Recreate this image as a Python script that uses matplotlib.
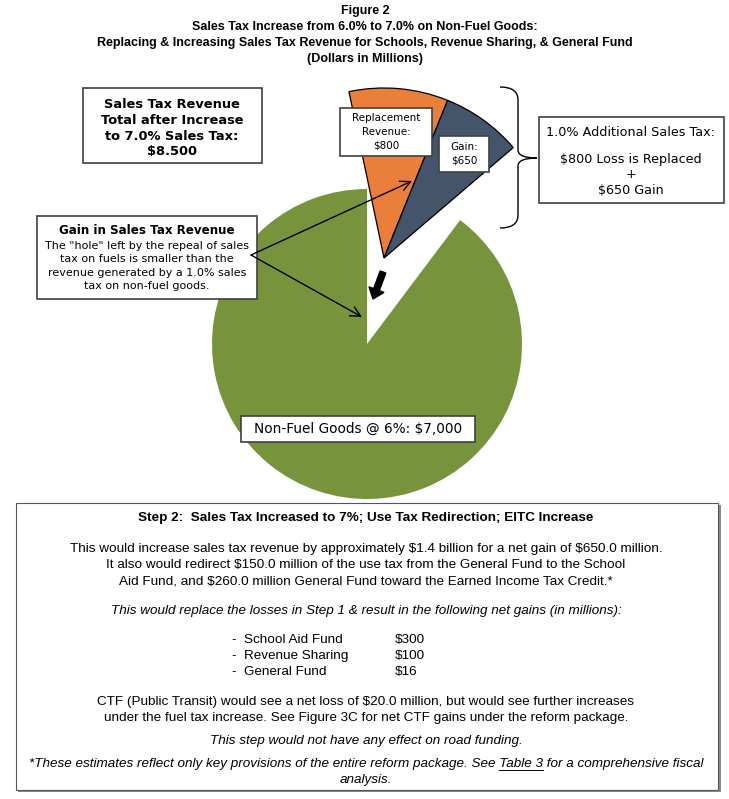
import matplotlib
matplotlib.use("Agg")
import matplotlib.pyplot as plt
from matplotlib.patches import Rectangle, PathPatch
from matplotlib.path import Path

plt.rcParams["text.parse_math"] = False

# chart values (dollars in millions)
green_labels = ["Non-Fuel Goods @ 6%", "Fuel hole"]
green_vals = [7000, 800]
top_labels = ["Replacement Revenue", "Gain", "rest"]
top_vals = [800, 650, 7050]
total_after = "$8.500"
list_items = ["School Aid Fund", "Revenue Sharing", "General Fund"]
list_gains = [300, 100, 16]

W, H = 729, 799
fig = plt.figure(figsize=(W / 100, H / 100), dpi=100)
ax = fig.add_axes([0, 0, 1, 1])


def py(y):
    return H - y


ARIAL = "Liberation Sans"
VERD = "DejaVu Sans"

# big green pie with the hole
gw, _ = ax.pie(green_vals, colors=["#77933C", "none"], radius=155,
               center=(367, py(344)), startangle=90, counterclock=True,
               frame=True, wedgeprops=dict(linewidth=0))
gw[1].set_visible(False)

# exploded replacement + gain slices
tw, _ = ax.pie(top_vals, colors=["#E97F3B", "#44546A", "none"], radius=170,
               center=(384, py(258)), startangle=101.9, counterclock=False,
               frame=True, wedgeprops=dict(linewidth=0.9, edgecolor="black"))
tw[2].set_visible(False)

ax.set_xlim(0, W)
ax.set_ylim(0, H)
ax.set_aspect("equal")
ax.axis("off")


def box(x0, y0, x1, y1, lw=1.2, ec="#404040"):
    ax.add_patch(Rectangle((x0, py(y1)), x1 - x0, y1 - y0, facecolor="white",
                           edgecolor=ec, linewidth=lw, zorder=5))


# title
title_lines = ["Figure 2",
               "Sales Tax Increase from 6.0% to 7.0% on Non-Fuel Goods:",
               "Replacing & Increasing Sales Tax Revenue for Schools, Revenue Sharing, & General Fund",
               "(Dollars in Millions)"]
for i, t in enumerate(title_lines):
    ax.text(365, py(11 + i * 16), t, ha="center", va="center", fontsize=9,
            fontweight="bold", family=ARIAL)

# total box
box(83, 88, 262, 163)
ax.text(172, py(128), "Sales Tax Revenue\nTotal after Increase\nto 7.0% Sales Tax:\n" + total_after,
        ha="center", va="center", fontsize=9.4, fontweight="bold", family=VERD,
        linespacing=1.3, zorder=6)

# slice labels
box(340, 108, 432, 156)
ax.text(386, py(132), "Replacement\nRevenue:\n$" + str(top_vals[0]), ha="center",
        va="center", fontsize=7.5, family=VERD, linespacing=1.45, zorder=6)
box(439, 136, 489, 172)
ax.text(464, py(154), "Gain:\n$" + str(top_vals[1]), ha="center", va="center",
        fontsize=7.5, family=VERD, linespacing=1.45, zorder=6)

# brace
bx0, bx1, btip = 500, 518, 537
verts = [(bx0, py(87)), (bx1, py(87)), (bx1, py(100)),
         (bx1, py(150)),
         (bx1, py(158)), (btip, py(158)),
         (bx1, py(158)), (bx1, py(166)),
         (bx1, py(215)),
         (bx1, py(228)), (bx0, py(228))]
codes = [Path.MOVETO, Path.CURVE3, Path.CURVE3, Path.LINETO,
         Path.CURVE3, Path.CURVE3, Path.CURVE3, Path.CURVE3,
         Path.LINETO, Path.CURVE3, Path.CURVE3]
ax.add_patch(PathPatch(Path(verts, codes), facecolor="none", edgecolor="black", lw=1))

# right explanation box
box(539, 117, 724, 203)
ax.text(631, py(132), "1.0% Additional Sales Tax:", ha="center", va="center",
        fontsize=9.2, family=VERD, zorder=6)
ax.text(631, py(175), "$%d Loss is Replaced\n+\n$%d Gain" % (top_vals[0], top_vals[1]),
        ha="center", va="center", fontsize=9.2, family=VERD, linespacing=1.2, zorder=6)

# gain explanation box
box(37, 216, 257, 299)
ax.text(147, py(230), "Gain in Sales Tax Revenue", ha="center", va="center",
        fontsize=8.6, fontweight="bold", family=VERD, zorder=6)
ax.text(147, py(266), 'The "hole" left by the repeal of sales\ntax on fuels is smaller than the\n'
        'revenue generated by a 1.0% sales\ntax on non-fuel goods.',
        ha="center", va="center", fontsize=8, family=VERD, linespacing=1.4, zorder=6)
for tgt in [(412, 181), (362, 317)]:
    ax.annotate("", xy=(tgt[0], py(tgt[1])), xytext=(251, py(255)),
                arrowprops=dict(arrowstyle="->", color="black", lw=1,
                                mutation_scale=18, shrinkA=0, shrinkB=0), zorder=7)

# fat black arrow
ax.arrow(383, py(272), -10, -27, width=6, head_width=16, head_length=10,
         length_includes_head=True, color="black", zorder=7)

# green label
box(241, 416, 475, 442)
ax.text(358, py(429), green_labels[0] + ": $" + format(green_vals[0], ","),
        ha="center", va="center", fontsize=9.8, family=VERD, zorder=6)

# bottom text box
ax.add_patch(Rectangle((18, py(792)), 703, 792 - 505, facecolor="#8a8a8a",
                       edgecolor="none", zorder=4))
box(16, 503, 718, 790, lw=0.8, ec="#555555")
fs = 9.7
ax.text(366, py(518), "Step 2:  Sales Tax Increased to 7%; Use Tax Redirection; EITC Increase",
        ha="center", va="center", fontsize=fs, fontweight="bold", family=ARIAL, zorder=6)
para = ["This would increase sales tax revenue by approximately $1.4 billion for a net gain of $650.0 million.",
        "It also would redirect $150.0 million of the use tax from the General Fund to the School",
        "Aid Fund, and $260.0 million General Fund toward the Earned Income Tax Credit.*"]
for i, t in enumerate(para):
    ax.text(366, py(549 + i * 16), t, ha="center", va="center", fontsize=fs,
            family=ARIAL, zorder=6)
ax.text(366, py(611), "This would replace the losses in Step 1 & result in the following net gains (in millions):",
        ha="center", va="center", fontsize=fs, style="italic", family=ARIAL, zorder=6)
for i, (n, v) in enumerate(zip(list_items, list_gains)):
    ax.text(232, py(640 + i * 16), "-  " + n, ha="left", va="center", fontsize=fs,
            family=ARIAL, zorder=6)
    ax.text(395, py(640 + i * 16), "$" + str(v), ha="left", va="center", fontsize=fs,
            family=ARIAL, zorder=6)
ctf = ["CTF (Public Transit) would see a net loss of $20.0 million, but would see further increases",
       "under the fuel tax increase. See Figure 3C for net CTF gains under the reform package."]
for i, t in enumerate(ctf):
    ax.text(366, py(702 + i * 16), t, ha="center", va="center", fontsize=fs,
            family=ARIAL, zorder=6)
ax.text(366, py(741), "This step would not have any effect on road funding.", ha="center",
        va="center", fontsize=fs, style="italic", family=ARIAL, zorder=6)

pre = "*These estimates reflect only key provisions of the entire reform package. See "
link = "Table 3"
post = " for a comprehensive fiscal"
foot = ax.text(366, py(764), pre + link + post, ha="center", va="center", fontsize=fs,
               style="italic", family=ARIAL, zorder=6)
ax.text(366, py(780), "analysis.", ha="center", va="center", fontsize=fs,
        style="italic", family=ARIAL, zorder=6)

# underline "Table 3"
r = fig.canvas.get_renderer()
bb = foot.get_window_extent(r)
tmp = ax.text(0, 0, pre, fontsize=fs, style="italic", family=ARIAL)
wpre = tmp.get_window_extent(r).width
tmp.set_text(pre + link)
wlink = tmp.get_window_extent(r).width
tmp.remove()
ax.plot([bb.x0 + wpre, bb.x0 + wlink], [py(770), py(770)], color="black", lw=0.7,
        transform=None, zorder=6)

fig.savefig("out.png", dpi=100)
